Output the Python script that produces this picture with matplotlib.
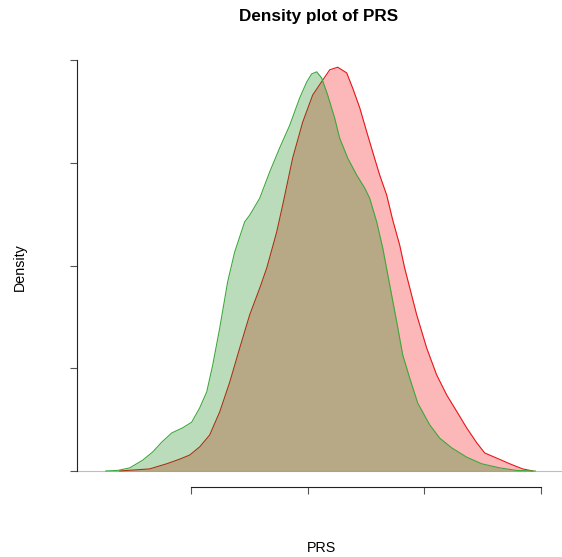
import numpy as np
import matplotlib.pyplot as plt

plt.rcParams['font.family'] = ['Liberation Sans', 'DejaVu Sans']

# density curves (PRS value, density)
red_x = [-1.611, -1.354, -1.208, -1.097, -1.011, -0.925, -0.840, -0.754, -0.668, -0.583,
         -0.497, -0.411, -0.351, -0.266, -0.214, -0.129, -0.043, 0.043, 0.129, 0.189,
         0.257, 0.334, 0.386, 0.446, 0.506, 0.557, 0.617, 0.677, 0.728, 0.788,
         0.831, 0.934, 1.020, 1.105, 1.191, 1.285, 1.362, 1.448, 1.517, 1.620,
         1.731, 1.842, 1.928]
red_y = [0.0, 0.004, 0.014, 0.023, 0.031, 0.047, 0.070, 0.115, 0.173, 0.239,
         0.304, 0.356, 0.395, 0.465, 0.518, 0.609, 0.679, 0.732, 0.761, 0.781,
         0.786, 0.775, 0.745, 0.707, 0.660, 0.621, 0.576, 0.537, 0.489, 0.440,
         0.395, 0.304, 0.239, 0.187, 0.148, 0.113, 0.084, 0.055, 0.035, 0.025,
         0.014, 0.004, 0.0]

green_x = [-1.730, -1.628, -1.525, -1.414, -1.328, -1.251, -1.165, -1.071, -0.994, -0.925,
           -0.865, -0.814, -0.754, -0.686, -0.626, -0.540, -0.497, -0.411, -0.326, -0.240,
           -0.154, -0.069, -0.009, 0.034, 0.077, 0.120, 0.171, 0.231, 0.274, 0.343,
           0.420, 0.488, 0.531, 0.591, 0.643, 0.703, 0.763, 0.814, 0.874, 0.943,
           1.045, 1.131, 1.234, 1.362, 1.491, 1.645, 1.791, 1.950]
green_y = [0.0, 0.001, 0.006, 0.021, 0.037, 0.056, 0.074, 0.084, 0.095, 0.123,
           0.154, 0.206, 0.278, 0.368, 0.426, 0.485, 0.498, 0.531, 0.582, 0.629,
           0.673, 0.726, 0.757, 0.773, 0.777, 0.765, 0.732, 0.687, 0.648, 0.609,
           0.576, 0.551, 0.531, 0.485, 0.434, 0.362, 0.290, 0.226, 0.181, 0.132,
           0.090, 0.064, 0.045, 0.027, 0.014, 0.006, 0.001, 0.0]

x_ticks = [-1, 0, 1, 2]
y_ticks = [0, 0.2, 0.4, 0.6, 0.8]

W, H = 562, 557
fig = plt.figure(figsize=(W / 100, H / 100), dpi=100)

# plot region in pixels (R style, 4% padding)
left, right, top, bottom = 77, 564, 43.6, 487.4
ax = fig.add_axes([left / W, 1 - bottom / H, (right - left) / W, (bottom - top) / H])
px_per_unit = 116.7
ax.set_xlim((left - 307.7) / px_per_unit, (right - 307.7) / px_per_unit)
ax.set_ylim(-0.032, 0.832)

ax.axhline(0, color='#BEBEBE', lw=0.8, zorder=1)

ax.fill_between(red_x, red_y, color=(0.96, 0, 0, 0.28), lw=0, zorder=2)
ax.plot(red_x, red_y, color='#E8161B', lw=0.8, zorder=3)
ax.fill_between(green_x, green_y, color=(0, 0.5, 0, 0.27), lw=0, zorder=4)
ax.plot(green_x, green_y, color='#3DA83D', lw=0.8, zorder=5)

for s in ['top', 'right']:
    ax.spines[s].set_visible(False)
ax.spines['left'].set_bounds(y_ticks[0], y_ticks[-1])
ax.spines['bottom'].set_bounds(x_ticks[0], x_ticks[-1])
for s in ['left', 'bottom']:
    ax.spines[s].set_linewidth(0.8)
    ax.spines[s].set_color('#222222')
ax.set_xticks(x_ticks)
ax.set_yticks(y_ticks)
ax.tick_params(length=5.2, width=0.8, color='#555555', labelbottom=False, labelleft=False)

fig.text(318.5 / W, 1 - 16 / H, 'Density plot of PRS', ha='center', va='center',
         fontsize=12.3, fontweight='bold')
fig.text(321 / W, 1 - 548 / H, 'PRS', ha='center', va='center', fontsize=10.3)
fig.text(20 / W, 1 - 267 / H, 'Density', ha='center', va='center', rotation=90, fontsize=10.3)

fig.savefig('out.png', dpi=100)
